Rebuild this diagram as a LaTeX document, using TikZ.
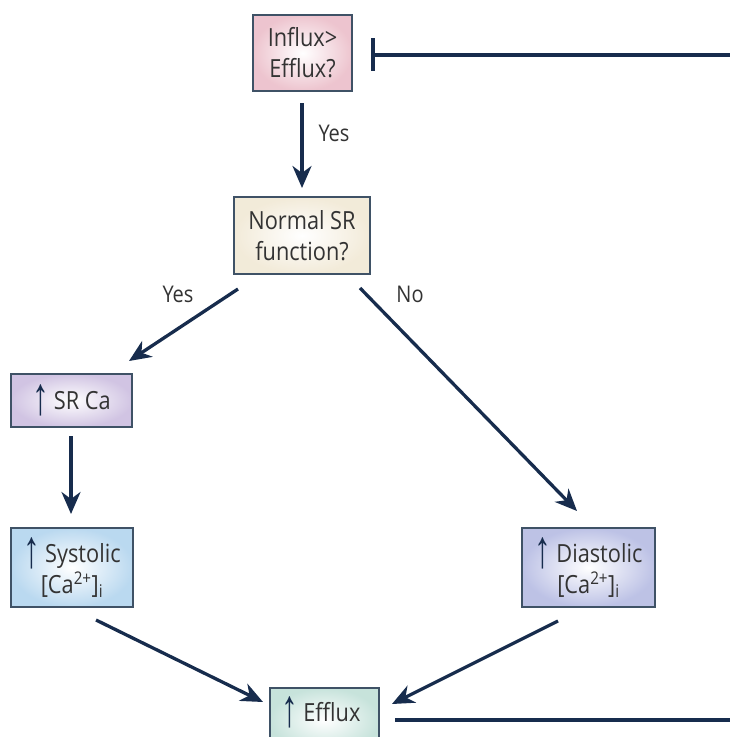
\documentclass[tikz,border=0pt]{standalone}
\usepackage{fontspec}
\usepackage{graphicx}
\setmainfont[FakeStretch=0.87]{Open Sans}
\newfontfamily\arrfont{Liberation Sans}
\usetikzlibrary{arrows.meta}
\definecolor{linec}{HTML}{172C4D}
\definecolor{edgec}{HTML}{3F5266}
\definecolor{txtc}{HTML}{333333}
\pgfdeclareradialshading{pinkshade}{\pgfpoint{0bp}{0bp}}{rgb(0bp)=(1,1,1); rgb(25bp)=(0.93,0.77,0.81); rgb(50bp)=(0.93,0.77,0.81)}
\pgfdeclareradialshading{beigeshade}{\pgfpoint{0bp}{0bp}}{rgb(0bp)=(1,1,1); rgb(25bp)=(0.95,0.92,0.85); rgb(50bp)=(0.95,0.92,0.85)}
\pgfdeclareradialshading{lavshade}{\pgfpoint{0bp}{0bp}}{rgb(0bp)=(1,1,1); rgb(25bp)=(0.82,0.77,0.89); rgb(50bp)=(0.82,0.77,0.89)}
\pgfdeclareradialshading{blueshade}{\pgfpoint{0bp}{0bp}}{rgb(0bp)=(1,1,1); rgb(25bp)=(0.73,0.85,0.94); rgb(50bp)=(0.73,0.85,0.94)}
\pgfdeclareradialshading{perishade}{\pgfpoint{0bp}{0bp}}{rgb(0bp)=(1,1,1); rgb(25bp)=(0.74,0.76,0.90); rgb(50bp)=(0.74,0.76,0.90)}
\pgfdeclareradialshading{mintshade}{\pgfpoint{0bp}{0bp}}{rgb(0bp)=(1,1,1); rgb(25bp)=(0.78,0.89,0.86); rgb(50bp)=(0.78,0.89,0.86)}
\newcommand{\upar}{\raisebox{-5pt}{\scalebox{1.2}[1.9]{\arrfont\fontsize{28}{28}\selectfont\color{linec}↑}}\hspace{5pt}}
\tikzset{
  box/.style={draw=edgec, line width=1.4pt, inner sep=0pt, align=center,
    text=txtc, font=\fontsize{25}{31}\selectfont},
  flow/.style={draw=linec, line width=3.3pt, -{Stealth[length=22pt,width=19pt,inset=7pt]}},
  plain/.style={draw=linec, line width=3.3pt},
  lab/.style={text=txtc, font=\fontsize{23}{26}\selectfont, inner sep=0pt}
}
\begin{document}
\begin{tikzpicture}[x=1pt,y=-1pt]
\useasboundingbox (0,0) rectangle (730,737);
\clip (0,0) rectangle (730,737);
\node[box, shading=pinkshade, minimum width=99pt, minimum height=76pt] (influx) at (302.5,53) {Influx>\\Efflux?};
\node[box, shading=beigeshade, minimum width=136pt, minimum height=77pt] (normal) at (302,235.5) {Normal SR\\function?};
\node[box, shading=lavshade, minimum width=121pt, minimum height=53pt] (srca) at (71.5,400.5) {\upar SR Ca};
\node[box, shading=blueshade, minimum width=122pt, minimum height=79pt] (sys) at (72,567.5) {\upar Systolic\\{}[Ca\textsuperscript{2+}]\textsubscript{i}};
\node[box, shading=perishade, minimum width=133pt, minimum height=79pt] (dia) at (588.5,567.5) {\upar Diastolic\\{}[Ca\textsuperscript{2+}]\textsubscript{i}};
\node[box, shading=mintshade, minimum width=109pt, minimum height=64pt] (efflux) at (324.5,720) {};
\node[text=txtc, font=\fontsize{25}{31}\selectfont, inner sep=0pt, anchor=base] (effluxtxt) at (321,721) {\upar Efflux};
% coordinates for connector ends
\coordinate (infl-b) at (302,103);
\coordinate (norm-t) at (302,188);
\coordinate (norm-l) at (238,289);
\coordinate (srca-t) at (129,361);
\coordinate (norm-r) at (360,288);
\coordinate (dia-t) at (577,511);
\coordinate (srca-b) at (71,436);
\coordinate (sys-t) at (71,514);
\coordinate (sys-b) at (96,620);
\coordinate (eff-l) at (263,702);
\coordinate (dia-b) at (558,621);
\coordinate (eff-r) at (392,704);
\coordinate (inh-end) at (373,55);
\coordinate (inh-start) at (730,55);
\coordinate (eff-out) at (395,720);
\coordinate (eff-edge) at (730,720);
\coordinate (bar-t) at (373,38);
\coordinate (bar-b) at (373,71);
\draw[flow] (infl-b) -- (norm-t);
\draw[flow] (norm-l) -- (srca-t);
\draw[flow] (norm-r) -- (dia-t);
\draw[flow] (srca-b) -- (sys-t);
\draw[flow] (sys-b) -- (eff-l);
\draw[flow] (dia-b) -- (eff-r);
\draw[plain] (inh-start) -- (inh-end);
\draw[draw=linec, line width=3.3pt] (bar-t) -- (bar-b);
\draw[plain] (eff-out) -- (eff-edge);
\node[lab] (yes1) at (334,133) {Yes};
\node[lab] (yes2) at (178,294) {Yes};
\node[lab] (no) at (410,294) {No};
\end{tikzpicture}
\end{document}
